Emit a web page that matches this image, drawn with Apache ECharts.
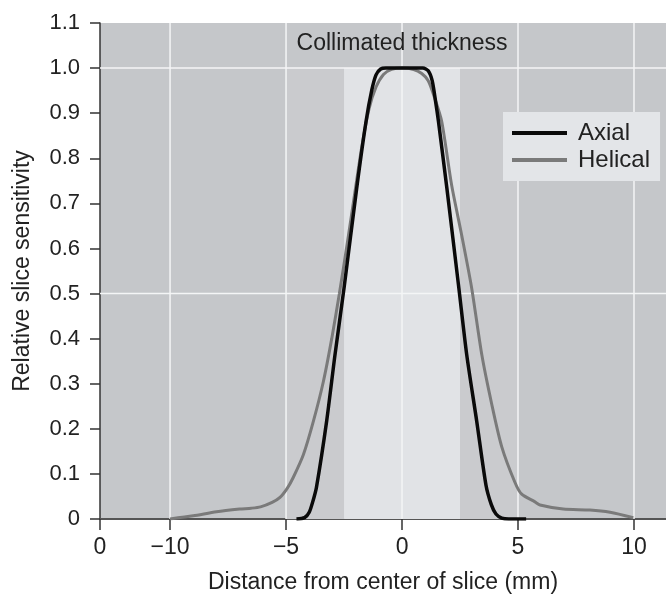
<!DOCTYPE html>
<html>
<head>
<meta charset="utf-8">
<script src="https://cdn.jsdelivr.net/npm/echarts@6/dist/echarts.min.js"></script>
<style>
html,body{margin:0;padding:0;background:#fff;}
#c{width:666px;height:599px;}
</style>
</head>
<body>
<div id="c"></div>
<script>
// ---- data ----
const xTickValues = [-13.02, -10, -5, 0, 5, 10];
const xTickLabels = ['0', '\u221210', '\u22125', '0', '5', '10'];
const xGridLines = [-10, -5, 0, 5, 10];
const yGridLines = [0.5, 1.0];
const collimatedBand = [-2.5, 2.5];
const sideBandsLeft = [-5, -2.5];
const sideBandsRight = [2.5, 5];
const bandTop = 1.0;
const bandLabel = 'Collimated thickness';
const bandLabelAt = [0, 1.055];

const axialData = [
  [-4.55, 0], [-4.2, 0.003], [-4.0, 0.015], [-3.85, 0.038], [-3.69, 0.07],
  [-3.25, 0.217], [-2.89, 0.364], [-2.5, 0.512], [-1.95, 0.735], [-1.55, 0.882],
  [-1.3, 0.952], [-1.12, 0.985], [-0.92, 0.998], [-0.7, 1.0], [0.9, 1.0],
  [1.13, 0.994], [1.3, 0.972], [1.45, 0.925], [1.57, 0.882], [1.93, 0.735],
  [2.45, 0.512], [2.79, 0.364], [3.22, 0.217], [3.62, 0.075], [3.85, 0.032],
  [4.05, 0.011], [4.3, 0.002], [4.6, 0], [5.35, 0]
];
const helicalData = [
  [-10, 0], [-9, 0.007], [-8, 0.016], [-7, 0.022], [-6.5, 0.024], [-6.1, 0.027],
  [-5.6, 0.037], [-5.26, 0.048], [-4.95, 0.068], [-4.69, 0.092], [-4.25, 0.143],
  [-3.82, 0.217], [-3.39, 0.305], [-3.03, 0.40], [-2.7, 0.50], [-2.35, 0.615],
  [-2.03, 0.725], [-1.72, 0.83], [-1.42, 0.91], [-1.12, 0.958], [-0.8, 0.986],
  [-0.45, 0.997], [0, 1.0], [0.5, 0.997], [0.85, 0.988], [1.13, 0.972],
  [1.4, 0.935], [1.71, 0.882], [2.14, 0.74], [2.57, 0.63], [3.0, 0.513],
  [3.44, 0.364], [3.87, 0.254], [4.3, 0.16], [4.87, 0.081], [5.16, 0.055],
  [5.73, 0.038], [5.95, 0.031], [6.95, 0.022], [8.1, 0.02], [8.97, 0.015], [9.97, 0.003]
];

const FONT = '"Liberation Sans", Arial, sans-serif';
const X_MAX = 11.38, Y_MAX = 1.1;

const chart = echarts.init(document.getElementById('c'), null, {renderer: 'canvas'});

const labelFor = function (v) {
  const i = xTickValues.findIndex(t => Math.abs(t - v) < 1e-6);
  return i >= 0 ? xTickLabels[i] : '';
};

const gridLineStyle = {color: '#f4f5f6', width: 1.5};
const plain = {symbol: 'none', showSymbol: false, silent: true, emphasis: {disabled: true}};

const bandSeries = [
  [sideBandsLeft, '#cacbce'], [sideBandsRight, '#cacbce'], [collimatedBand, '#e1e3e6']
].map(([b, c]) => Object.assign({
  type: 'line', data: [[b[0], bandTop], [b[1], bandTop]], z: 1,
  lineStyle: {width: 0, color: c}, areaStyle: {color: c, opacity: 1}
}, plain));

const gridSeries = xGridLines.map(v => Object.assign({
  type: 'line', data: [[v, 0], [v, Y_MAX]], z: 3, lineStyle: gridLineStyle
}, plain)).concat(yGridLines.map(v => Object.assign({
  type: 'line', data: [[xTickValues[0], v], [X_MAX, v]], z: 3, lineStyle: gridLineStyle
}, plain)));

const option = {
  animation: false,
  tooltip: {show: false},
  grid: {
    left: 100, top: 23, right: 0, bottom: 77,
    show: true, backgroundColor: '#c5c7ca', borderWidth: 0
  },
  legend: {
    data: ['Axial', 'Helical'],
    orient: 'vertical',
    left: 503, top: 112,
    padding: [9, 10, 9, 9],
    icon: 'rect',
    itemWidth: 55, itemHeight: 4, itemGap: 3,
    backgroundColor: '#e3e5e8',
    textStyle: {fontFamily: FONT, fontSize: 24, color: '#222', padding: [0, 0, 0, 6]}
  },
  xAxis: {
    type: 'value',
    min: xTickValues[0], max: X_MAX,
    name: 'Distance from center of slice (mm)',
    nameLocation: 'middle', nameGap: 52,
    nameTextStyle: {fontFamily: FONT, fontSize: 23, color: '#222'},
    axisLine: {onZero: false, lineStyle: {color: '#555', width: 2}},
    axisTick: {show: true, length: 11, customValues: xTickValues, lineStyle: {color: '#333', width: 1.5}},
    axisLabel: {customValues: xTickValues, formatter: labelFor, margin: 17,
      fontFamily: FONT, fontSize: 23, color: '#222', showMinLabel: true, showMaxLabel: true},
    splitLine: {show: false}
  },
  yAxis: {
    type: 'value',
    min: 0, max: Y_MAX, interval: 0.1,
    name: 'Relative slice sensitivity',
    nameLocation: 'middle', nameGap: 66,
    nameTextStyle: {fontFamily: FONT, fontSize: 23, color: '#222'},
    axisLine: {show: true, onZero: false, lineStyle: {color: '#333', width: 1.5}},
    axisTick: {show: true, length: 10, lineStyle: {color: '#333', width: 1.5}},
    axisLabel: {
      margin: 20, fontFamily: FONT, fontSize: 22, color: '#222',
      formatter: v => (Math.abs(v) < 1e-9 ? '0' : v.toFixed(1))
    },
    splitLine: {show: false}
  },
  series: bandSeries.concat(gridSeries).concat([
    {
      name: 'Helical', type: 'line', data: helicalData, z: 10,
      showSymbol: false, symbol: 'none', smooth: 0.25,
      lineStyle: {color: '#7a7a7a', width: 3},
      itemStyle: {color: '#7a7a7a'}
    },
    {
      name: 'Axial', type: 'line', data: axialData, z: 11,
      showSymbol: false, symbol: 'none', smooth: 0.25,
      lineStyle: {color: '#0a0a0a', width: 3.5},
      itemStyle: {color: '#0a0a0a'}
    }
  ])
};
chart.setOption(option);
const p = chart.convertToPixel({gridIndex: 0}, bandLabelAt);
chart.setOption({
  graphic: [{
    type: 'text', x: p[0], y: p[1], z: 20, silent: true,
    style: {text: bandLabel, fontFamily: FONT, fontSize: 23, fill: '#222',
      textAlign: 'center', textVerticalAlign: 'middle'}
  }]
});
</script>
</body>
</html>
